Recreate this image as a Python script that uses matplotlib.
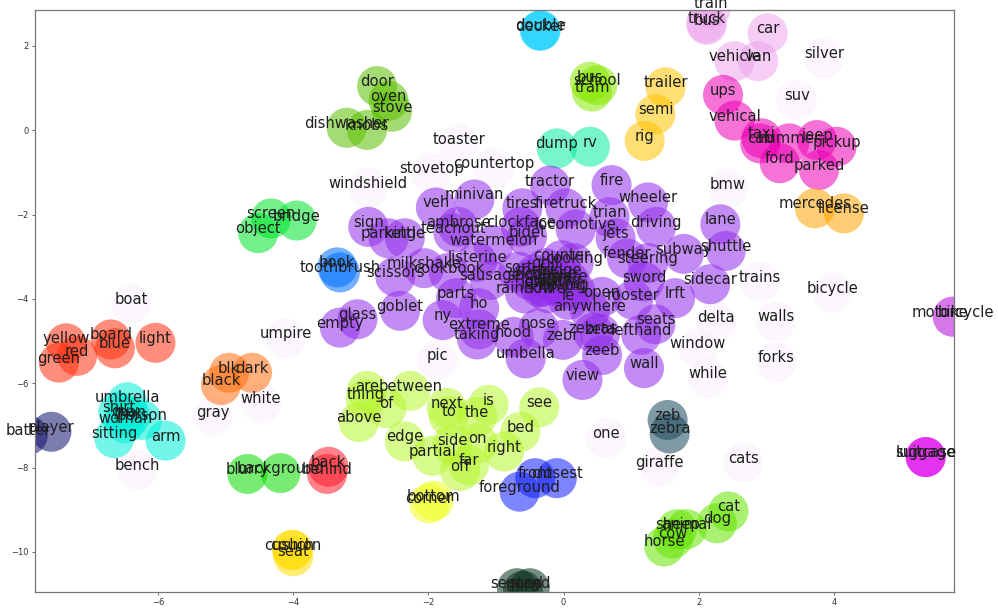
import matplotlib
matplotlib.use("Agg")
import matplotlib.pyplot as plt

# word embedding projection: word, 2-D coordinates and cluster id
words = [
    # unclustered (pale)
    "windshield", "toaster", "countertop", "stovetop", "silver", "suv", "bmw",
    "boat", "umpire", "pic", "trains", "bicycle", "delta", "walls", "window",
    "forks", "while", "one", "giraffe", "cats", "bench", "gray", "white",
    # kitchen
    "dishwasher", "knobs", "door", "oven", "stove",
    # double decker
    "decker", "double",
    # bus / school / tram
    "bus", "school", "tram",
    # dump / rv
    "dump", "rv",
    # trailer / semi / rig
    "trailer", "semi", "rig",
    # vehicles (light pink)
    "train", "truck", "bus", "car", "vehicle", "van",
    # vehicles (magenta)
    "ups", "vehical", "taxi", "cab", "hummer", "jeep", "pickup", "ford", "parked",
    # mercedes / license
    "mercedes", "license",
    # motorcycle / bike
    "motorcycle", "bike",
    # suitcase / luggage
    "suitcase", "luggage",
    # zebra
    "zeb", "zebra",
    # animals
    "cat", "dog", "sheep", "animal", "cow", "horse",
    # prepositions
    "are", "between", "thing", "of", "above", "next", "to", "the", "is", "see",
    "bed", "edge", "side", "on", "right", "partial", "far", "off",
    # bottom / corner
    "bottom", "corner",
    # front
    "front", "closest", "foreground",
    # ordinals
    "second", "stand", "third",
    # dark shades
    "black", "blk", "dark",
    # colours
    "yellow", "red", "green", "board", "blue", "light",
    # people
    "umbrella", "shirt", "man", "guy", "person", "woman", "sitting", "arm",
    # baseball
    "player", "batter",
    # background
    "blurry", "background",
    # back
    "back", "behind",
    # seating
    "couch", "cushion", "seat",
    # screen
    "screen", "bridge", "object",
    # book
    "book", "toothbrush",
    # big mixed cluster
    "empty", "glass", "veh", "minivan", "tires", "firetruck", "tractor", "fire",
    "trian", "wheeler", "driving", "lane", "shuttle", "subway", "sidecar", "lrft",
    "seats", "lefthand", "wall", "sign", "parking", "kettle", "teachout",
    "ambrose", "clockface", "bidet", "locomotive", "jets", "watermelon",
    "listerine", "milkshake", "scissors", "cookbook", "sausage", "counter",
    "cooking", "fender", "steering", "sword", "open", "rooster", "anywhere",
    "rainbow", "le", "parts", "ho", "goblet", "ny", "extreme", "nose", "hood",
    "taking", "umbella", "zebr", "zebras", "zeta", "zeeb", "view",
    "sort", "grill", "spoon", "jewel", "fridge", "pig", "cutting", "boxing",
    "cheese", "knife", "spray", "plate", "sorry", "grind",
]

x = [
    -2.89, -1.55, -1.03, -1.96, 3.85, 3.45, 2.43,
    -6.40, -4.11, -1.87, 2.91, 3.98, 2.26, 3.14, 1.99,
    3.15, 2.14, 0.63, 1.42, 2.66, -6.31, -5.19, -4.48,
    -3.21, -2.91, -2.76, -2.59, -2.54,
    -0.35, -0.34,
    0.39, 0.50, 0.42,
    -0.10, 0.39,
    1.51, 1.36, 1.20,
    2.18, 2.11, 2.12, 3.02, 2.53, 2.88,
    2.36, 2.53, 2.93, 2.91, 3.34, 3.75, 4.04, 3.20, 3.78,
    3.72, 4.15,
    5.76, 5.76,
    5.36, 5.36,
    1.54, 1.57,
    2.44, 2.27, 1.68, 1.82, 1.62, 1.49,
    -2.91, -2.27, -2.93, -2.62, -3.03, -1.73, -1.70, -1.28, -1.11, -0.36,
    -0.64, -2.35, -1.65, -1.27, -0.88, -1.94, -1.40, -1.53,
    -1.92, -1.99,
    -0.42, -0.10, -0.65,
    -0.69, -0.50, -0.60,
    -5.07, -4.95, -4.61,
    -7.36, -7.20, -7.47, -6.70, -6.64, -6.04,
    -6.46, -6.59, -6.41, -6.49, -6.24, -6.49, -6.65, -5.89,
    -7.58, -7.93,
    -4.68, -4.19,
    -3.48, -3.50,
    -4.02, -4.01, -4.00,
    -4.33, -3.95, -4.52,
    -3.35, -3.31,
    -3.31, -3.05, -1.89, -1.32, -0.61, 0.03, -0.20, 0.71,
    0.68, 1.25, 1.37, 2.32, 2.40, 1.78, 2.17, 1.65,
    1.36, 1.15, 1.19, -2.89, -2.59, -2.35, -1.63,
    -1.56, -0.63, -0.54, 0.18, 0.77, -1.04,
    -1.28, -2.06, -2.49, -1.70, -1.09, -0.03,
    0.15, 0.94, 1.25, 1.19, 0.57, 1.03, 0.39,
    -0.57, 0.07, -1.59, -1.25, -2.42, -1.79, -1.25, -0.37, -0.74,
    -1.28, -0.56, -0.01, 0.44, 0.54, 0.57, 0.28,
    -0.67, -0.27, -0.50, -0.35, -0.05, 0.17, -0.13, 0.02,
    -0.20, -0.23, -0.42, 0.09, -0.15, -0.30,
]

y = [
    -1.37, -0.33, -0.89, -1.01, 1.71, 0.72, -1.38,
    -4.12, -4.93, -5.45, -3.59, -3.85, -4.54, -4.52, -5.17,
    -5.49, -5.88, -7.30, -7.98, -7.88, -8.06, -6.79, -6.47,
    0.06, 0.01, 1.05, 0.70, 0.44,
    2.36, 2.37,
    1.15, 1.07, 0.92,
    -0.43, -0.39,
    1.02, 0.38, -0.25,
    2.89, 2.54, 2.50, 2.30, 1.64, 1.64,
    0.84, 0.23, -0.19, -0.31, -0.31, -0.23, -0.39, -0.78, -0.94,
    -1.85, -1.97,
    -4.42, -4.42,
    -7.75, -7.75,
    -6.87, -7.19,
    -9.04, -9.32, -9.46, -9.46, -9.68, -9.87,
    -6.18, -6.18, -6.38, -6.59, -6.92, -6.58, -6.78, -6.79, -6.51, -6.57,
    -7.15, -7.38, -7.46, -7.42, -7.62, -7.72, -7.94, -8.08,
    -8.78, -8.85,
    -8.25, -8.25, -8.57,
    -10.86, -10.86, -10.92,
    -6.04, -5.75, -5.75,
    -5.05, -5.35, -5.51, -4.96, -5.17, -5.04,
    -6.45, -6.67, -6.79, -6.77, -6.87, -6.95, -7.30, -7.36,
    -7.15, -7.23,
    -8.15, -8.13,
    -7.98, -8.15,
    -9.95, -9.95, -10.10,
    -2.09, -2.14, -2.44,
    -3.25, -3.37,
    -4.68, -4.48, -1.83, -1.64, -1.85, -1.85, -1.31, -1.30,
    -2.06, -1.71, -2.29, -2.23, -2.86, -2.93, -3.65, -3.98,
    -4.60, -4.85, -5.64, -2.29, -2.56, -2.56, -2.44,
    -2.29, -2.29, -2.52, -2.35, -2.56, -2.72,
    -3.12, -3.27, -3.47, -3.38, -3.55, -3.08,
    -3.15, -3.04, -3.15, -3.59, -3.95, -4.02, -4.28,
    -3.87, -4.02, -3.98, -4.22, -4.28, -4.50, -4.72, -4.70, -4.90,
    -4.96, -5.41, -4.97, -4.80, -4.83, -5.33, -5.92,
    -3.35, -3.27, -3.55, -3.72, -3.43, -3.79, -3.67, -3.79,
    -3.50, -3.86, -3.42, -3.58, -3.62, -3.70,
]

group = (
    ["pale"] * 23 + ["kitchen"] * 5 + ["decker"] * 2 + ["school"] * 3
    + ["dump"] * 2 + ["trailer"] * 3 + ["pink"] * 6 + ["magenta"] * 9
    + ["mercedes"] * 2 + ["bike"] * 2 + ["luggage"] * 2 + ["zebra"] * 2
    + ["animal"] * 6 + ["prep"] * 18 + ["bottom"] * 2 + ["front"] * 3
    + ["ordinal"] * 3 + ["dark"] * 3 + ["colour"] * 6 + ["people"] * 8
    + ["baseball"] * 2 + ["background"] * 2 + ["back"] * 2 + ["seat"] * 3
    + ["screen"] * 3 + ["book"] * 2 + ["mixed"] * 72
)

palette = {
    "pale": "#f8f1fc", "kitchen": "#5bbf00", "decker": "#00ccff",
    "school": "#88e800", "dump": "#0aeda4", "trailer": "#ffc300",
    "pink": "#eda4ed", "magenta": "#ed00b6", "mercedes": "#ffa400",
    "bike": "#cd56e6", "luggage": "#dd00ee", "zebra": "#1a4a5e",
    "animal": "#64e400", "prep": "#b6f62e", "bottom": "#f0ff20",
    "front": "#1020ff", "ordinal": "#08341d", "dark": "#ff7010",
    "colour": "#ff3010", "people": "#00f0d8", "baseball": "#10106e",
    "background": "#0adb00", "back": "#ff1a2a", "seat": "#ffdd00",
    "screen": "#00e42e", "book": "#0070ff", "mixed": "#922eec",
}

fig = plt.figure(figsize=(9.98, 6.08), dpi=100)
ax = fig.add_axes([0.0346, 0.0263, 0.9214, 0.957])

colors = [palette[g] for g in group]
ax.scatter(x, y, s=830, c=colors, alpha=0.55, linewidths=0, zorder=1)

for w, xi, yi in zip(words, x, y):
    ax.text(xi, yi, w, ha="center", va="baseline", fontsize=10.6,
            color="#1e1e1e", zorder=3)

ax.set_xlim(-7.83, 5.78)
ax.set_ylim(-10.95, 2.85)
ax.set_xticks([-6, -4, -2, 0, 2, 4])
ax.set_yticks([2, 0, -2, -4, -6, -8, -10])
ax.tick_params(labelsize=6, length=2.5, width=0.6, pad=2,
               color="#555555", labelcolor="#333333")
for sp in ax.spines.values():
    sp.set_color("#777777")
    sp.set_linewidth(0.9)

fig.savefig("out.png", dpi=100)
